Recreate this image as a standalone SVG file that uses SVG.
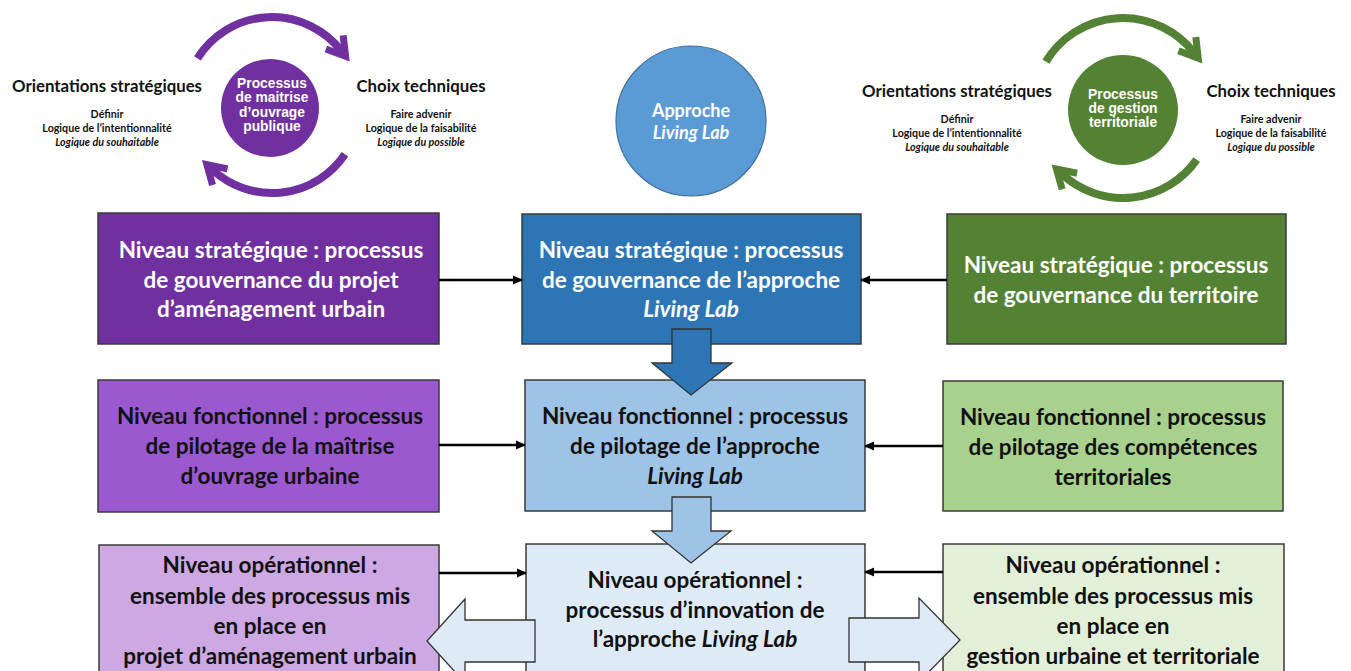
<svg xmlns="http://www.w3.org/2000/svg" width="1351" height="671" viewBox="0 0 1351 671">
<defs>
<style>
.box{stroke:#3a3a3a;stroke-width:1.5}
.bt{font-family:Lato,"Liberation Sans",sans-serif;font-weight:bold;font-size:22.5px;text-anchor:middle}
.w{fill:#ffffff}
.k{fill:#111111}
.it{font-style:italic}
.side{font-family:Lato,"Liberation Sans",sans-serif;font-weight:bold;text-anchor:middle;fill:#111}
.h{font-size:16.8px}
.s{font-size:10.7px}
.circ{font-family:"Liberation Sans",Arial,sans-serif;font-weight:bold;font-size:13.8px;fill:#fff;text-anchor:middle}
.cyc{fill:none;stroke-width:8}
.conn{stroke:#000;stroke-width:2.5;fill:none;marker-end:url(#ah)}
.blk{stroke:#333;stroke-width:1.3}
</style>
<marker id="ah" viewBox="0 0 10 10" refX="9" refY="5" markerWidth="10" markerHeight="10" markerUnits="userSpaceOnUse" orient="auto">
<path d="M0,0.5 L10,5 L0,9.5 z" fill="#000"/>
</marker>
<marker id="ap" viewBox="0 0 30 30" refX="16" refY="15" markerWidth="30" markerHeight="30" markerUnits="userSpaceOnUse" orient="auto" overflow="visible">
<path d="M5,4 L23,15 L5,26" fill="none" stroke="#7030A0" stroke-width="7"/>
</marker>
<marker id="ag" viewBox="0 0 30 30" refX="16" refY="15" markerWidth="30" markerHeight="30" markerUnits="userSpaceOnUse" orient="auto" overflow="visible">
<path d="M5,4 L23,15 L5,26" fill="none" stroke="#548235" stroke-width="7"/>
</marker>
</defs>
<rect width="1351" height="671" fill="#ffffff"/>

<g id="cycle-left">
<path class="cyc" stroke="#7030A0" d="M197.4,58.4 A88,88 0 0 1 341.3,50.8" marker-end="url(#ap)"/>
<path class="cyc" stroke="#7030A0" d="M345,154.2 A88,88 0 0 1 212,169.4" marker-end="url(#ap)"/>
<circle cx="270" cy="108" r="49" fill="#7030A0"/>
<text class="circ" x="272" y="88">Processus</text>
<text class="circ" x="272" y="102">de maitrise</text>
<text class="circ" x="272" y="117">d’ouvrage</text>
<text class="circ" x="272" y="131">publique</text>
<text class="side h" x="107" y="92">Orientations stratégiques</text>
<text class="side s" x="107" y="118">Définir</text>
<text class="side s" x="107" y="132">Logique de l’intentionnalité</text>
<text class="side s it" x="107" y="146">Logique du souhaitable</text>
<text class="side h" x="421" y="92">Choix techniques</text>
<text class="side s" x="421" y="118">Faire advenir</text>
<text class="side s" x="421" y="132">Logique de la faisabilité</text>
<text class="side s it" x="421" y="146">Logique du possible</text>
</g>

<g id="approche">
<circle cx="691" cy="121" r="75" fill="#5B9BD5" stroke="#41719C" stroke-width="1.2"/>
<text class="bt w" style="font-size:18px" x="691" y="117">Approche</text>
<text class="bt w it" style="font-size:18px" x="691" y="139">Living Lab</text>
</g>

<g id="cycle-right">
<path class="cyc" stroke="#548235" d="M1045.9,61.6 A90,90 0 0 1 1193.9,52.6" marker-end="url(#ag)"/>
<path class="cyc" stroke="#548235" d="M1196.7,159.6 A90,90 0 0 1 1061.6,173.8" marker-end="url(#ag)"/>
<circle cx="1123" cy="110" r="55" fill="#548235"/>
<text class="circ" x="1123" y="99">Processus</text>
<text class="circ" x="1123" y="113">de gestion</text>
<text class="circ" x="1123" y="127">territoriale</text>
<text class="side h" x="957" y="97">Orientations stratégiques</text>
<text class="side s" x="957" y="123">Définir</text>
<text class="side s" x="957" y="137">Logique de l’intentionnalité</text>
<text class="side s it" x="957" y="151">Logique du souhaitable</text>
<text class="side h" x="1271" y="97">Choix techniques</text>
<text class="side s" x="1271" y="123">Faire advenir</text>
<text class="side s" x="1271" y="137">Logique de la faisabilité</text>
<text class="side s it" x="1271" y="151">Logique du possible</text>
</g>

<g id="strat-left">
<rect class="box" x="98" y="213" width="341" height="131" fill="#7030A0"/>
<text class="bt w" x="271" y="258">Niveau stratégique : processus</text>
<text class="bt w" x="271" y="288">de gouvernance du projet</text>
<text class="bt w" x="271" y="317">d’aménagement urbain</text>
</g>
<g id="strat-center">
<rect class="box" x="522" y="214" width="339" height="130" fill="#2E75B6"/>
<text class="bt w" x="691" y="258">Niveau stratégique : processus</text>
<text class="bt w" x="691" y="288">de gouvernance de l’approche</text>
<text class="bt w it" x="691" y="317">Living Lab</text>
</g>
<g id="strat-right">
<rect class="box" x="947" y="214" width="339" height="130" fill="#548235"/>
<text class="bt w" x="1116" y="273">Niveau stratégique : processus</text>
<text class="bt w" x="1116" y="303">de gouvernance du territoire</text>
</g>

<g id="fonc-left">
<rect class="box" x="98" y="380" width="341" height="132" fill="#9B59CF"/>
<text class="bt k" x="270" y="424">Niveau fonctionnel : processus</text>
<text class="bt k" x="270" y="454">de pilotage  de la maîtrise</text>
<text class="bt k" x="270" y="484">d’ouvrage urbaine</text>
</g>
<g id="fonc-center">
<rect class="box" x="525" y="380" width="340" height="131" fill="#9DC3E6"/>
<text class="bt k" x="695" y="424">Niveau fonctionnel : processus</text>
<text class="bt k" x="695" y="454">de pilotage de l’approche</text>
<text class="bt k it" x="695" y="484">Living Lab</text>
</g>
<g id="fonc-right">
<rect class="box" x="943" y="381" width="340" height="130" fill="#A9D18E"/>
<text class="bt k" x="1113" y="425">Niveau fonctionnel : processus</text>
<text class="bt k" x="1113" y="455">de pilotage  des compétences</text>
<text class="bt k" x="1113" y="485">territoriales</text>
</g>

<g id="oper-left">
<rect class="box" x="99" y="545" width="340" height="140" fill="#CDA8E3"/>
<text class="bt k" x="270" y="573">Niveau opérationnel :</text>
<text class="bt k" x="270" y="604">ensemble des processus mis</text>
<text class="bt k" x="270" y="634">en place en</text>
<text class="bt k" x="270" y="664">projet d’aménagement urbain</text>
</g>
<g id="oper-center">
<rect class="box" x="526" y="544" width="339" height="140" fill="#DEEBF7"/>
<text class="bt k" x="695" y="588">Niveau opérationnel :</text>
<text class="bt k" x="695" y="618">processus d’innovation de</text>
<text class="bt k" x="695" y="647">l’approche <tspan class="it">Living Lab</tspan></text>
</g>
<g id="oper-right">
<rect class="box" x="943" y="544" width="341" height="140" fill="#E2F0D9"/>
<text class="bt k" x="1113" y="573">Niveau opérationnel :</text>
<text class="bt k" x="1113" y="604">ensemble des processus mis</text>
<text class="bt k" x="1113" y="634">en place en</text>
<text class="bt k" x="1113" y="664">gestion urbaine et territoriale</text>
</g>

<g id="connectors">
<line class="conn" x1="439" y1="280" x2="522" y2="280"/>
<line class="conn" x1="947" y1="280" x2="861" y2="280"/>
<line class="conn" x1="439" y1="445" x2="525" y2="445"/>
<line class="conn" x1="943" y1="446" x2="865" y2="446"/>
<line class="conn" x1="439" y1="573" x2="526" y2="573"/>
<line class="conn" x1="943" y1="572" x2="865" y2="572"/>
<polygon class="blk" fill="#2E75B6" points="672,329 711,329 711,363 732,363 691,395 652,363 672,363"/>
<polygon class="blk" fill="#9DC3E6" points="672,497 711,497 711,531 731,531 691,563 652,531 672,531"/>
<polygon class="blk" fill="#DEEBF7" points="535,620 465,620 465,599 427,641 465,683 465,662 535,662"/>
<polygon class="blk" fill="#DEEBF7" points="849,618 919,618 919,598 960,640 919,682 919,662 849,662"/>
</g>
</svg>
